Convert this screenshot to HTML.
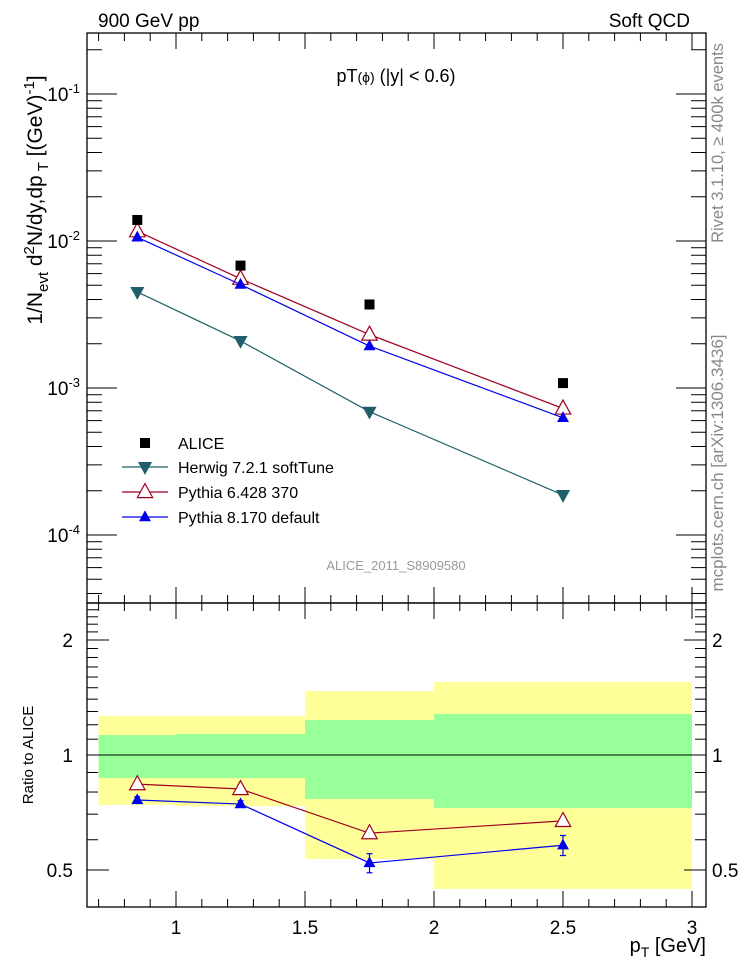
<!DOCTYPE html>
<html><head><meta charset="utf-8"><style>
body{margin:0;background:#fff;}
svg{display:block;font-family:"Liberation Sans",sans-serif;}
</style></head><body>
<svg id="c" width="746" height="972" xmlns="http://www.w3.org/2000/svg">
<g id="bands"></g>
<g id="axes"></g>
<g id="marks"></g>
<text x="98" y="27" font-size="19">900 GeV pp</text>
<text x="690" y="27" font-size="19" text-anchor="end">Soft QCD</text>
<text x="396" y="82" font-size="18" text-anchor="middle">pT<tspan font-size="14">(ϕ)</tspan> (|y| &lt; 0.6)</text>
<text x="396" y="570" font-size="13" fill="#999" text-anchor="middle">ALICE_2011_S8909580</text>
<text transform="translate(723,143) rotate(-90)" font-size="16.5" fill="#888" text-anchor="middle">Rivet 3.1.10, ≥ 400k events</text>
<text transform="translate(723,463) rotate(-90)" font-size="17" fill="#888" text-anchor="middle">mcplots.cern.ch [arXiv:1306.3436]</text>
<text transform="translate(42,200) rotate(-90)" font-size="21" text-anchor="middle">1/N<tspan font-size="15" dy="6">evt</tspan><tspan dy="-6"> d</tspan><tspan font-size="15" dy="-8">2</tspan><tspan dy="8">N/dy,dp</tspan><tspan font-size="15" dy="6"> T</tspan><tspan dy="-6"> [(GeV)</tspan><tspan font-size="15" dy="-8">-1</tspan><tspan dy="8">]</tspan></text>
<text transform="translate(33,755) rotate(-90)" font-size="15" text-anchor="middle">Ratio to ALICE</text>
<text x="706" y="952" font-size="20" text-anchor="end">p<tspan font-size="14" dy="5">T</tspan><tspan dy="-5"> [GeV]</tspan></text>
<g id="legend"></g>
</svg>
<script>
const xLo = [0.7, 1.0, 1.5, 2.0];
const xHi = [1.0, 1.5, 2.0, 3.0];
const xPts = [0.85, 1.25, 1.75, 2.5];
const alice = [0.0139, 0.0068, 0.0037, 0.00108];
const herwig = [0.0045, 0.00209, 0.00069, 0.000187];
const py6 = [0.01166, 0.00554, 0.00231, 0.000726];
const py8 = [0.0106, 0.00506, 0.00193, 0.000627];
const py8RatioErr = [0.015, 0.015, 0.03, 0.035];
const statUp = [1.128, 1.135, 1.235, 1.28];
const statDn = [0.87, 0.87, 0.767, 0.726];
const totUp = [1.265, 1.265, 1.47, 1.553];
const totDn = [0.74, 0.735, 0.534, 0.446];
const xTicks = [1, 1.5, 2, 2.5, 3];
const xTickLabels = ["1", "1.5", "2", "2.5", "3"];
const yExps = [-1, -2, -3, -4];
const rTicks = [2, 1, 0.5];
const rTickLabels = ["2", "1", "0.5"];

const NS = "http://www.w3.org/2000/svg";
const L = 87, R = 706, T = 33, M = 603, B = 907;
const X = v => 176 + (v - 1) * 258;
const Y = v => 241 - (Math.log10(v) + 2) * 147;
const YR = v => 755 - Math.log2(v) * 115;
function mk(parent, tag, attrs) {
  const e = document.createElementNS(NS, tag);
  for (const k in attrs) e.setAttribute(k, attrs[k]);
  document.getElementById(parent).appendChild(e);
  return e;
}
function ln(p, x1, y1, x2, y2, c, w) { return mk(p, "line", {x1, y1, x2, y2, stroke: c || "#000", "stroke-width": w || 1}); }

for (let i = 0; i < xLo.length; i++) {
  let r = mk("bands", "rect", {x: X(xLo[i]), y: YR(totUp[i]), width: X(xHi[i]) - X(xLo[i]), height: YR(totDn[i]) - YR(totUp[i]), fill: "#ffff99"});
  
  
  r = mk("bands", "rect", {x: X(xLo[i]), y: YR(statUp[i]), width: X(xHi[i]) - X(xLo[i]), height: YR(statDn[i]) - YR(statUp[i]), fill: "#99ff99"});
  
  
}
ln("bands", L, YR(1), R, YR(1), "#000", 1);

let f = mk("axes", "rect", {x: L, y: T, width: R - L, height: M - T, fill: "none", stroke: "#000", "stroke-width": 1.3});


f = mk("axes", "rect", {x: L, y: M, width: R - L, height: B - M, fill: "none", stroke: "#000", "stroke-width": 1.3});



for (let v = 0.7; v <= 3.001; v += 0.1) {
  const x = X(v);
  const major = Math.abs(v * 2 - Math.round(v * 2)) < 1e-6;
  const len = major ? 16 : 8;
  ln("axes", x, M, x, M - len); ln("axes", x, T, x, T + len);
  ln("axes", x, B, x, B - len); ln("axes", x, M, x, M + len);
}
xTicks.forEach((v, i) => {
  const t = mk("axes", "text", {x: X(v), y: 934, "font-size": 19, "text-anchor": "middle"});
  t.textContent = xTickLabels[i];
  
  
});
for (let e = -5; e <= -1; e++) {
  for (let m = 1; m <= 9; m++) {
    const v = m * Math.pow(10, e), y = Y(v);
    if (y < T || y > M) continue;
    const len = m === 1 ? 30 : 15;
    ln("axes", L, y, L + len, y); ln("axes", R, y, R - len, y);
  }
}
yExps.forEach(e => {
  const t = mk("axes", "text", {x: 80, y: Y(Math.pow(10, e)) + 7, "font-size": 19, "text-anchor": "end"});
  t.innerHTML = '10<tspan font-size="13" dy="-8">' + e + '</tspan>';
  
  
});
for (let v = 0.4; v <= 2.5001; v += 0.1) {
  const y = YR(v);
  const major = [0.5, 1, 2].some(q => Math.abs(q - v) < 1e-6);
  const len = major ? 22 : 11;
  ln("axes", L, y, L + len, y); ln("axes", R, y, R - len, y);
}
rTicks.forEach((v, i) => {
  let t = mk("axes", "text", {x: 73, y: YR(v) + 7, "font-size": 19, "text-anchor": "end"});
  t.textContent = rTickLabels[i];
  
  
  t = mk("axes", "text", {x: 712, y: YR(v) + 7, "font-size": 19});
  t.textContent = rTickLabels[i];
  
  
});

function tri(p, x, y, s, up, fill, stroke, name) {
  const h = s;
  const pts = up ? [[x, y - h * 0.6], [x - h * 0.55, y + h * 0.4], [x + h * 0.55, y + h * 0.4]]
                 : [[x, y + h * 0.6], [x - h * 0.55, y - h * 0.4], [x + h * 0.55, y - h * 0.4]];
  const e = mk(p, "polygon", {points: pts.map(q => q.join(",")).join(" "), fill, stroke, "stroke-width": 1.2});
  
  
}
function series(vals, yf, color, up, fill, name, sz) {
  const pl = mk("marks", "polyline", {points: vals.map((v, i) => X(xPts[i]) + "," + yf(v)).join(" "), fill: "none", stroke: color, "stroke-width": 1.2});
  
  
  vals.forEach((v, i) => tri("marks", X(xPts[i]), yf(v), sz, up, fill, color, name + '-marker'));
}
series(herwig, Y, "#1f5f6a", false, "#1f5f6a", "herwig", 11);
series(py6, Y, "#a00020", true, "#fff", "pythia6", 14);
series(py8, Y, "#0000ee", true, "#0000ee", "pythia8", 9);
alice.forEach((v, i) => {
  const r = mk("marks", "rect", {x: X(xPts[i]) - 5, y: Y(v) - 5, width: 10, height: 10, fill: "#000"});
  
  
});
const r6 = py6.map((v, i) => v / alice[i]);
const r8 = py8.map((v, i) => v / alice[i]);
series(r6, YR, "#a00020", true, "#fff", "pythia6-ratio", 14);
r8.forEach((v, i) => {
  const x = X(xPts[i]);
  ln("marks", x, YR(v + py8RatioErr[i]), x, YR(v - py8RatioErr[i]), "#0000ee", 1.2);
  ln("marks", x - 3, YR(v + py8RatioErr[i]), x + 3, YR(v + py8RatioErr[i]), "#0000ee", 1.2);
  ln("marks", x - 3, YR(v - py8RatioErr[i]), x + 3, YR(v - py8RatioErr[i]), "#0000ee", 1.2);
});
series(r8, YR, "#0000ee", true, "#0000ee", "pythia8-ratio", 9);

const legNames = ["ALICE", "Herwig 7.2.1 softTune", "Pythia 6.428 370", "Pythia 8.170 default"];
const legY = [443, 467, 492, 517];
legNames.forEach((n, i) => {
  const y = legY[i];
  if (i === 0) {
    const r = mk("legend", "rect", {x: 140, y: y - 5, width: 10, height: 10, fill: "#000"});
    
    
  } else {
    const c = ["#1f5f6a", "#a00020", "#0000ee"][i - 1];
    ln("legend", 122, y, 168, y, c, 1.2);
    tri("legend", 145, y, [11, 14, 9][i - 1], i !== 1, i === 2 ? "#fff" : c, c, 'legend-marker');
  }
  const t = mk("legend", "text", {x: 178, y: y + 6, "font-size": 16});
  t.textContent = n;
  
  
});
</script>
</body></html>
